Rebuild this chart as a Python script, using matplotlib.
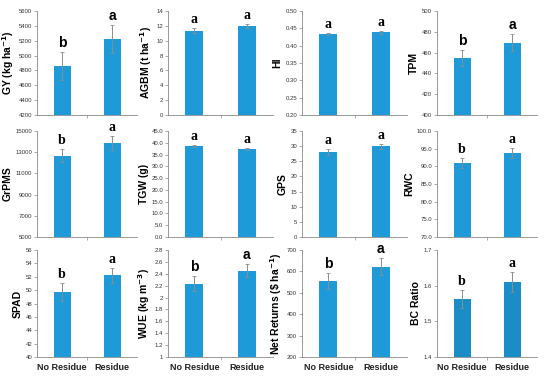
import matplotlib
matplotlib.use("Agg")
import matplotlib.pyplot as plt
import numpy as np

plt.rcParams['font.family'] = ['Liberation Sans', 'DejaVu Sans']

categories = ["No Residue", "Residue"]

gy = [4855, 5225]; gy_err = [190, 185]
agbm = [11.35, 11.95]; agbm_err = [0.3, 0.3]
hi = [0.433, 0.439]; hi_err = [0.003, 0.004]
tpm = [455.0, 469.5]; tpm_err = [7.5, 8.0]
grpms = [12650, 13900]; grpms_err = [620, 650]
tgw = [38.5, 37.5]; tgw_err = [0.5, 0.4]
gps = [28.1, 29.9]; gps_err = [0.9, 0.8]
rwc = [90.9, 93.85]; rwc_err = [1.5, 1.4]
spad = [49.7, 52.2]; spad_err = [1.3, 1.15]
wue = [2.235, 2.455]; wue_err = [0.12, 0.11]
net = [555, 622]; net_err = [36, 39]
bc = [1.562, 1.610]; bc_err = [0.025, 0.027]

letters = {
    "GY": ["b", "a"], "AGBM": ["a", "a"], "HI": ["a", "a"], "TPM": ["b", "a"],
    "GrPMS": ["b", "a"], "TGW": ["a", "a"], "GPS": ["a", "a"], "RWC": ["b", "a"],
    "SPAD": ["b", "a"], "WUE": ["b", "a"], "NET": ["b", "a"], "BC": ["b", "a"],
}

panels = [
    # key, values, errs, ylabel, ylim, ticks, fmt, serif letters, color
    ("GY", gy, gy_err, r"GY (kg ha$^{\mathbf{-1}}$)", (4200, 5600), np.arange(4200, 5601, 200), "{:.0f}", False, "#1f9ad8"),
    ("AGBM", agbm, agbm_err, r"AGBM (t ha$^{\mathbf{-1}}$)", (0, 14), np.arange(0, 15, 2), "{:.0f}", True, "#1f9ad8"),
    ("HI", hi, hi_err, "HI", (0.20, 0.50), np.arange(0.20, 0.501, 0.05), "{:.2f}", True, "#1f9ad8"),
    ("TPM", tpm, tpm_err, "TPM", (400, 500), np.arange(400, 501, 20), "{:.0f}", False, "#1f9ad8"),
    ("GrPMS", grpms, grpms_err, "GrPMS", (5000, 15000), np.arange(5000, 15001, 2000), "{:.0f}", True, "#1f9ad8"),
    ("TGW", tgw, tgw_err, "TGW (g)", (0, 45), np.arange(0, 45.1, 5), "{:.1f}", True, "#1f9ad8"),
    ("GPS", gps, gps_err, "GPS", (0, 35), np.arange(0, 36, 5), "{:.0f}", True, "#1f9ad8"),
    ("RWC", rwc, rwc_err, "RWC", (70, 100), np.arange(70, 100.1, 5), "{:.1f}", True, "#1f9ad8"),
    ("SPAD", spad, spad_err, "SPAD", (40, 56), np.arange(40, 57, 2), "{:.0f}", True, "#1f9ad8"),
    ("WUE", wue, wue_err, r"WUE (kg m$^{\mathbf{-3}}$)", (1, 2.8), np.arange(1, 2.81, 0.2), "g", False, "#1f9ad8"),
    ("NET", net, net_err, r"Net Returns (\$ ha$^{\mathbf{-1}}$)", (200, 700), np.arange(200, 701, 100), "{:.0f}", False, "#1f9ad8"),
    ("BC", bc, bc_err, "BC Ratio", (1.4, 1.7), np.arange(1.4, 1.71, 0.1), "{:.1f}", True, "#1a8cc6"),
]

fig = plt.figure(figsize=(5.5, 3.76), dpi=100)

W, H = 550, 376
col_x = [(37, 137), (168, 273), (302, 407), (437, 537)]
row_y = [(11, 115), (131, 237), (250, 357)]

x = np.arange(len(categories))
for i, (key, vals, errs, ylabel, ylim, ticks, fmt, serif, color) in enumerate(panels):
    r, c = divmod(i, 4)
    x0, x1 = col_x[c]
    y0, y1 = row_y[r]
    ax = fig.add_axes([x0 / W, 1 - y1 / H, (x1 - x0) / W, (y1 - y0) / H])
    ax.bar(x, vals, width=0.34, color=color, zorder=2)
    ax.errorbar(x, vals, yerr=errs, fmt="none", ecolor="#8c8c8c", elinewidth=0.7,
                capsize=1.5, capthick=0.6, zorder=3)
    ax.set_xlim(-0.5, 1.5)
    ax.set_ylim(*ylim)
    ax.set_yticks(ticks)
    if fmt == "g":
        ax.set_yticklabels([("%g" % round(t, 1)) for t in ticks])
    else:
        ax.set_yticklabels([fmt.format(t) for t in ticks])
    ax.tick_params(axis="y", labelsize=4.3, length=2, width=0.5, color="#888888",
                   labelcolor="#333333", pad=1.5)
    ax.set_xticks([0.5])
    ax.set_xticklabels([""])
    ax.tick_params(axis="x", length=2, width=0.5, color="#888888", direction="out")
    if r == 2:
        for xi, cat in zip(x, categories):
            ax.text(xi, -0.055, cat, transform=ax.get_xaxis_transform(),
                    ha="center", va="top", fontsize=6.5, fontweight="bold", color="#222222")
    for side in ("top", "right"):
        ax.spines[side].set_visible(False)
    for side in ("left", "bottom"):
        ax.spines[side].set_color("#888888")
        ax.spines[side].set_linewidth(0.6)
    ax.set_ylabel(ylabel, fontsize=7.5, fontweight="bold", labelpad=2)
    span = ylim[1] - ylim[0]
    for xi, v, e, lt in zip(x, vals, errs, letters[key]):
        if serif:
            ax.text(xi, v + e + span * 0.02, lt, ha="center", va="bottom", fontsize=10,
                    fontweight="bold", family=["Liberation Serif", "DejaVu Serif"])
        else:
            ax.text(xi, v + e + span * 0.02, lt, ha="center", va="bottom", fontsize=10,
                    fontweight="bold")

fig.savefig("out.png", dpi=100)
